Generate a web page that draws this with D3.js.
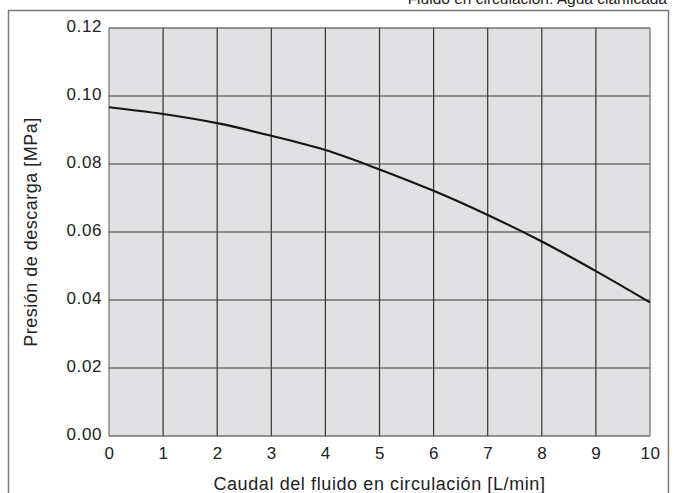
<!DOCTYPE html>
<html>
<head>
<meta charset="utf-8">
<script src="https://cdn.jsdelivr.net/npm/d3@7"></script>
<style>
  body { margin: 0; background: #fff; }
  svg { display: block; font-family: "Liberation Sans", Arial, sans-serif; }
</style>
</head>
<body>
<div id="chart"></div>
<script>
// data
var flow = [0, 1, 2, 3, 4, 5, 6, 7, 8, 9, 10];
var pressure = [0.0967, 0.0947, 0.0920, 0.0883, 0.0841, 0.0784, 0.0721, 0.0650, 0.0572, 0.0485, 0.0393];
var xTicks = [0, 1, 2, 3, 4, 5, 6, 7, 8, 9, 10];
var yTicks = [0, 0.02, 0.04, 0.06, 0.08, 0.10, 0.12];

var svgWidth = 674;
var svgHeight = 493;

var margin = { top: 28, right: 24, bottom: 57, left: 109 };
var width = 650 - margin.left;
var height = 436 - margin.top;

var svg = d3.select("#chart")
  .append("svg")
  .attr("width", svgWidth)
  .attr("height", svgHeight);

// outer frame (runs off the bottom of the picture)
svg.append("path")
  .attr("d", "M8.5,520 V10.5 H668.5 V520")
  .attr("fill", "none")
  .attr("stroke", "#7a7a7a")
  .attr("stroke-width", 1.5);

// title, cropped at top like the reference
svg.append("text")
  .attr("x", 667)
  .attr("y", 4)
  .attr("text-anchor", "end")
  .attr("font-size", 15.5)
  .attr("fill", "#222")
  .text("Fluido en circulación: Agua clarificada");

var chartGroup = svg.append("g")
  .attr("transform", `translate(${margin.left}, ${margin.top})`);

var x = d3.scaleLinear().domain([0, 10]).range([0, width]);
var y = d3.scaleLinear().domain([0, 0.12]).range([height, 0]);

chartGroup.append("rect")
  .attr("width", width)
  .attr("height", height)
  .attr("fill", "#e1e1e3");

// horizontal grid
chartGroup.selectAll(".hgrid")
  .data(yTicks)
  .enter()
  .append("line")
  .attr("x1", 0)
  .attr("x2", width)
  .attr("y1", d => y(d))
  .attr("y2", d => y(d))
  .attr("stroke", "#6e6e6e")
  .attr("stroke-width", 1.3);

// vertical grid
chartGroup.selectAll(".vgrid")
  .data(xTicks)
  .enter()
  .append("line")
  .attr("x1", d => x(d))
  .attr("x2", d => x(d))
  .attr("y1", 0)
  .attr("y2", height)
  .attr("stroke", d => (d === 0 || d === 10) ? "#6e6e6e" : "#333")
  .attr("stroke-width", 1.2);

// axes (labels only)
var bottomAxis = d3.axisBottom(x).tickValues(xTicks).tickSize(0).tickPadding(10).tickFormat(d3.format("d"));
var leftAxis = d3.axisLeft(y).tickValues(yTicks).tickSize(0).tickPadding(7).tickFormat(d3.format(".2f"));

var gx = chartGroup.append("g")
  .attr("transform", `translate(0, ${height})`)
  .call(bottomAxis);
var gy = chartGroup.append("g").call(leftAxis);

[gx, gy].forEach(g => {
  g.select(".domain").remove();
  g.selectAll("text")
    .attr("font-size", 17)
    .attr("letter-spacing", "0.6px")
    .attr("font-family", "Liberation Sans, Arial, sans-serif")
    .attr("fill", "#222");
});
gy.selectAll("text").attr("dy", "0.2em");
gx.selectAll("text").attr("dy", "0.75em");

// curve
var line = d3.line()
  .x((d, i) => x(flow[i]))
  .y(d => y(d))
  .curve(d3.curveMonotoneX);

chartGroup.append("path")
  .datum(pressure)
  .attr("d", line)
  .attr("fill", "none")
  .attr("stroke", "#151515")
  .attr("stroke-width", 2.2);

// axis titles
chartGroup.append("text")
  .attr("transform", "rotate(-90)")
  .attr("x", -height / 2)
  .attr("y", -margin.left + 37)
  .attr("text-anchor", "middle")
  .attr("font-size", 18)
  .attr("letter-spacing", "0.5px")
  .attr("fill", "#222")
  .text("Presión de descarga [MPa]");

chartGroup.append("text")
  .attr("x", width / 2)
  .attr("y", 490 - margin.top)
  .attr("text-anchor", "middle")
  .attr("font-size", 18)
  .attr("letter-spacing", "0.6px")
  .attr("fill", "#222")
  .text("Caudal del fluido en circulación [L/min]");
</script>
</body>
</html>
